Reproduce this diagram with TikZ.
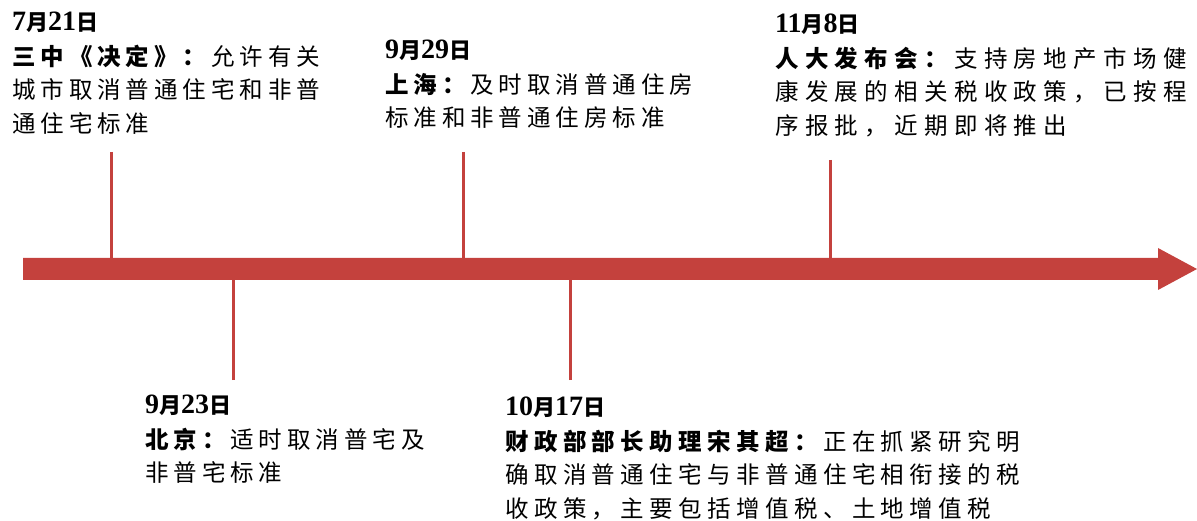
\documentclass[tikz,border=0pt]{standalone}
\usepackage{fontspec}
\setmainfont{Liberation Serif}
\newfontfamily\numf{Liberation Serif}
\newfontfamily\cjk[LetterSpace=21]{Noto Sans CJK SC}
\newfontfamily\cjkm[LetterSpace=23]{Noto Sans CJK SC}
\newfontfamily\cjkw[LetterSpace=27]{Noto Sans CJK SC}
\newfontfamily\cjkd{Noto Sans CJK SC}
\definecolor{tl}{HTML}{C4413D}
\newcommand\mydate[2]{{\numf\bfseries\fontsize{28}{28}\selectfont #1{\cjkd\fontsize{22}{22}\selectfont 月}#2{\cjkd\fontsize{22}{22}\selectfont 日}}}
\tikzset{
  evt/.style={anchor=north west, inner sep=0pt, align=left, text=black,
    font=\cjk\fontsize{23.5}{33.5}\selectfont},
  evtm/.style={evt, font=\cjkm\fontsize{23.5}{33.5}\selectfont},
  evtw/.style={evt, font=\cjkw\fontsize{23.5}{33.5}\selectfont},
  tick/.style={draw=tl, line width=3pt}
}
\begin{document}
\begin{tikzpicture}[x=1pt,y=-1pt]
\useasboundingbox (0,0) rectangle (1197,521);
% arrow
\fill[tl] (23,258) -- (1158,258) -- (1158,248) -- (1197,269) -- (1158,290) -- (1158,280) -- (23,280) -- cycle;
\coordinate (p1) at (111,259); \coordinate (q1) at (111,152);
\coordinate (p2) at (233,279); \coordinate (q2) at (233,380);
\coordinate (p3) at (463,259); \coordinate (q3) at (463,152);
\coordinate (p4) at (570,279); \coordinate (q4) at (570,380);
\coordinate (p5) at (830,259); \coordinate (q5) at (830,160);
\draw[tick] (q1) -- (p1);
\draw[tick] (q2) -- (p2);
\draw[tick] (q3) -- (p3);
\draw[tick] (q4) -- (p4);
\draw[tick] (q5) -- (p5);
% texts
\node[evt] (e1) at (12,12) {\mydate{7}{21}\\[1pt]
  \textbf{三中《决定》：}允许有关\\
  城市取消普通住宅和非普\\
  通住宅标准};
\node[evt] (e2) at (385,40) {\mydate{9}{29}\\[1pt]
  \textbf{上海：}及时取消普通住房\\
  标准和非普通住房标准};
\node[evtw] (e3) at (775,14) {\mydate{11}{8}\\[1pt]
  \textbf{人大发布会：}支持房地产市场健\\
  康发展的相关税收政策，已按程\\
  序报批，近期即将推出};
\node[evt] (e4) at (145,395) {\mydate{9}{23}\\[1pt]
  \textbf{北京：}适时取消普宅及\\
  非普宅标准};
\node[evtm] (e5) at (505,397) {\mydate{10}{17}\\[1pt]
  \textbf{财政部部长助理宋其超：}正在抓紧研究明\\
  确取消普通住宅与非普通住宅相衔接的税\\
  收政策，主要包括增值税、土地增值税};
\end{tikzpicture}
\end{document}
